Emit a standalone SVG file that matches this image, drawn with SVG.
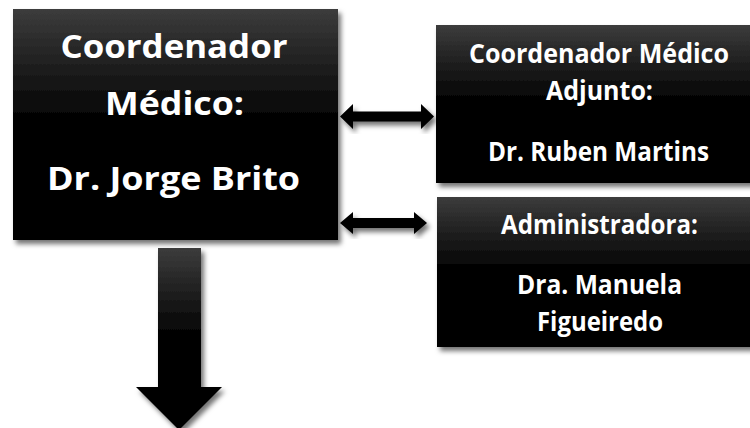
<svg xmlns="http://www.w3.org/2000/svg" width="750" height="428" viewBox="0 0 750 428">
<style>
.t{font-family:"Open Sans","Liberation Sans",sans-serif;font-weight:bold;fill:#ffffff;text-anchor:middle}
.big{font-size:33px}
.sm{font-size:26px}
</style>
<defs>
<linearGradient id="g" x1="0" y1="0" x2="0" y2="1">
<stop offset="0" stop-color="#3c3c3c"/>
<stop offset="0.5" stop-color="#000000"/>
<stop offset="1" stop-color="#000000"/>
</linearGradient>
<filter id="sh" x="-10%" y="-10%" width="130%" height="130%">
<feDropShadow dx="3" dy="4" stdDeviation="2.5" flood-color="#000000" flood-opacity="0.55"/>
</filter>
</defs>
<rect width="750" height="428" fill="#ffffff"/>
<g id="connectors">
<polygon filter="url(#sh)" fill="#000000" points="340,116.5 353,104 353,111.5 421,111.5 421,104 434,116.5 421,129 421,121.5 353,121.5 353,129"/>
<polygon filter="url(#sh)" fill="#000000" points="340,223 353,212 353,218 414,218 414,212 427,223 414,234 414,228 353,228 353,234"/>
<polygon filter="url(#sh)" fill="url(#g)" points="158,248 201,248 201,387 222,387 179,430 136,387 158,387"/>
</g>
<g id="coordenador">
<rect x="13" y="9" width="325" height="231" fill="url(#g)" filter="url(#sh)"/>
<text class="t big" x="174" y="57.5" textLength="227" lengthAdjust="spacingAndGlyphs">Coordenador</text>
<text class="t big" x="174.5" y="115" textLength="139" lengthAdjust="spacingAndGlyphs">Médico:</text>
<text class="t big" x="173.5" y="190" textLength="253" lengthAdjust="spacingAndGlyphs">Dr. Jorge Brito</text>
</g>
<g id="adjunto">
<rect x="436" y="25" width="330" height="158" fill="url(#g)" filter="url(#sh)"/>
<text class="t sm" x="599" y="62.5" textLength="260" lengthAdjust="spacingAndGlyphs">Coordenador Médico</text>
<text class="t sm" x="599.5" y="100" textLength="107" lengthAdjust="spacingAndGlyphs">Adjunto:</text>
<text class="t sm" x="598.5" y="161" textLength="221" lengthAdjust="spacingAndGlyphs">Dr. Ruben Martins</text>
</g>
<g id="administradora">
<rect x="437" y="197" width="330" height="150" fill="url(#g)" filter="url(#sh)"/>
<text class="t sm" x="599.5" y="234" textLength="197" lengthAdjust="spacingAndGlyphs">Administradora:</text>
<text class="t sm" x="599.5" y="294" textLength="165" lengthAdjust="spacingAndGlyphs">Dra. Manuela</text>
<text class="t sm" x="600" y="331" textLength="126" lengthAdjust="spacingAndGlyphs">Figueiredo</text>
</g>
</svg>
